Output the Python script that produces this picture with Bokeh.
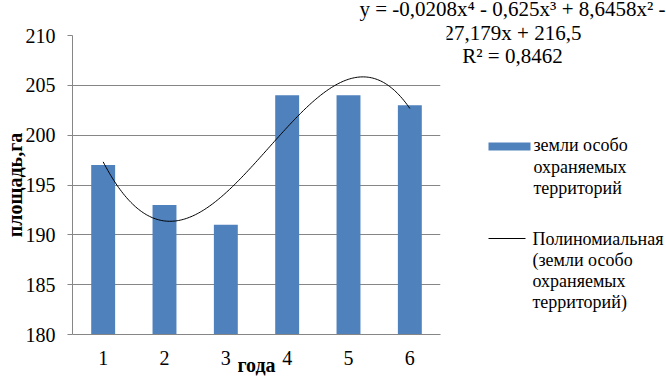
import numpy as np
from bokeh.plotting import figure
from bokeh.layouts import column, row
from bokeh.models import Range1d, FixedTicker
from bokeh.core.properties import value
from bokeh.embed import file_html
from bokeh.resources import INLINE

# ---- data ----
years = [1, 2, 3, 4, 5, 6]
area = [197, 193, 191, 204, 204, 203]
x_tick_labels = ["1", "2", "3", "4", "5", "6"]
y_ticks = [180, 185, 190, 195, 200, 205, 210]
legend_bar_lines = ["земли особо", "охраняемых", "территорий"]
legend_trend_lines = ["Полиномиальная", "(земли особо", "охраняемых", "территорий)"]
eq_lines = ["y = -0,0208x⁴ - 0,625x³ + 8,6458x² -", "27,179x + 216,5", "R² = 0,8462"]
x_title = "года"
y_title = "площадь,га"
poly_degree = 4

# ---- layout (page pixels) ----
W, H = 666, 382
TOP_H = 21                 # strip holding the first equation line
SIDE_X = 446               # where the right-hand strip starts
FL, FR, FT, FB = 72, 440, 35, 334   # plot frame edges on the page
X0, X1 = 0.5, 6.5
Y0, Y1 = 180, 210
FONT = "Liberation Serif"
MID = 0.3375               # em-box middle above the baseline for this font
GRID = "#868686"
BAR = "#4F81BD"


def no_align(f):
    try:
        f.frame_align = False
    except AttributeError:
        pass


def blank(width, height, x0, x1, y0, y1):
    f = figure(width=width, height=height, x_range=Range1d(x0, x1), y_range=Range1d(y1, y0),
               output_backend="svg", toolbar_location=None,
               x_axis_type=None, y_axis_type=None,
               min_border=0, min_border_left=0, min_border_right=0,
               min_border_top=0, min_border_bottom=0)
    f.title_location = None
    f.outline_line_color = None
    f.grid.visible = False
    f.background_fill_color = "white"
    f.border_fill_color = "white"
    no_align(f)
    return f


def put_text(f, txt, x, baseline, size_px, align="left"):
    f.text(x=[x], y=[baseline - MID * size_px], text=[txt], text_font=value(FONT),
           text_font_size=f"{size_px}px", text_color="black", text_align=align,
           text_baseline="middle")


# ---- main chart ----
MW, MH = SIDE_X, H - TOP_H
p = figure(width=MW, height=MH, x_range=Range1d(X0, X1), y_range=Range1d(Y0, Y1),
           output_backend="svg", toolbar_location=None,
           min_border_left=FL, min_border_right=MW - FR,
           min_border_top=FT - TOP_H, min_border_bottom=H - FB)
p.title_location = None
p.outline_line_color = None
p.background_fill_color = "white"
p.border_fill_color = "white"
no_align(p)

r_bar = p.vbar(x=years, top=area, bottom=Y0, width=0.39, fill_color=BAR, line_color=None)

coeffs = np.polyfit(years, area, poly_degree)
xs = np.linspace(years[0], years[-1], 200)
r_line = p.line(xs, np.polyval(coeffs, xs), line_color="black", line_width=1)

p.xaxis.ticker = FixedTicker(ticks=years)
p.xaxis.major_label_overrides = {k: v for k, v in zip(years, x_tick_labels)}
p.xaxis.major_tick_out = 0
p.xaxis.major_tick_in = 0
p.xaxis.axis_line_color = GRID
p.xaxis.major_label_standoff = 16
p.xaxis.axis_label = x_title
p.xaxis.axis_label_standoff = -14

p.yaxis.ticker = FixedTicker(ticks=y_ticks)
p.yaxis.major_tick_out = 5
p.yaxis.major_tick_in = 0
p.yaxis.major_tick_line_color = GRID
p.yaxis.axis_line_color = GRID
p.yaxis.major_label_standoff = 12
p.yaxis.axis_label = y_title
p.yaxis.axis_label_standoff = -3

for ax in (p.xaxis, p.yaxis):
    ax.minor_tick_out = 0
    ax.minor_tick_in = 0
    ax.major_label_text_font = FONT
    ax.major_label_text_font_size = "20px"
    ax.major_label_text_color = "black"
    ax.axis_label_text_font = FONT
    ax.axis_label_text_font_size = "20px"
    ax.axis_label_text_font_style = "bold"
    ax.axis_label_text_color = "black"

p.xgrid.visible = False
p.ygrid.ticker = FixedTicker(ticks=y_ticks)
p.ygrid.grid_line_color = GRID

# ---- top strip: first line of the trend-line equation ----
top = blank(W, TOP_H, 0, W, 0, TOP_H)
put_text(top, eq_lines[0], 512, 16, 21, align="center")

# ---- right strip: rest of the equation and the legend ----
side = blank(W - SIDE_X, MH, SIDE_X, W, TOP_H, H)
for i, t in enumerate(eq_lines[1:]):
    put_text(side, t, 512, 39.5 + 23.5 * i, 21, align="center")

side.quad(left=[488], right=[530], top=[142], bottom=[150], fill_color=BAR, line_color=None)
for i, t in enumerate(legend_bar_lines):
    put_text(side, t, 533, 151 + 21.5 * i, 18)

side.segment(x0=[488], x1=[525], y0=[238], y1=[238], line_color="black", line_width=1)
for i, t in enumerate(legend_trend_lines):
    put_text(side, t, 532, 245 + 21 * i, 18)

layout = column(top, row(p, side, spacing=0), spacing=0)
open("out.html", "w").write(file_html(layout, INLINE))
